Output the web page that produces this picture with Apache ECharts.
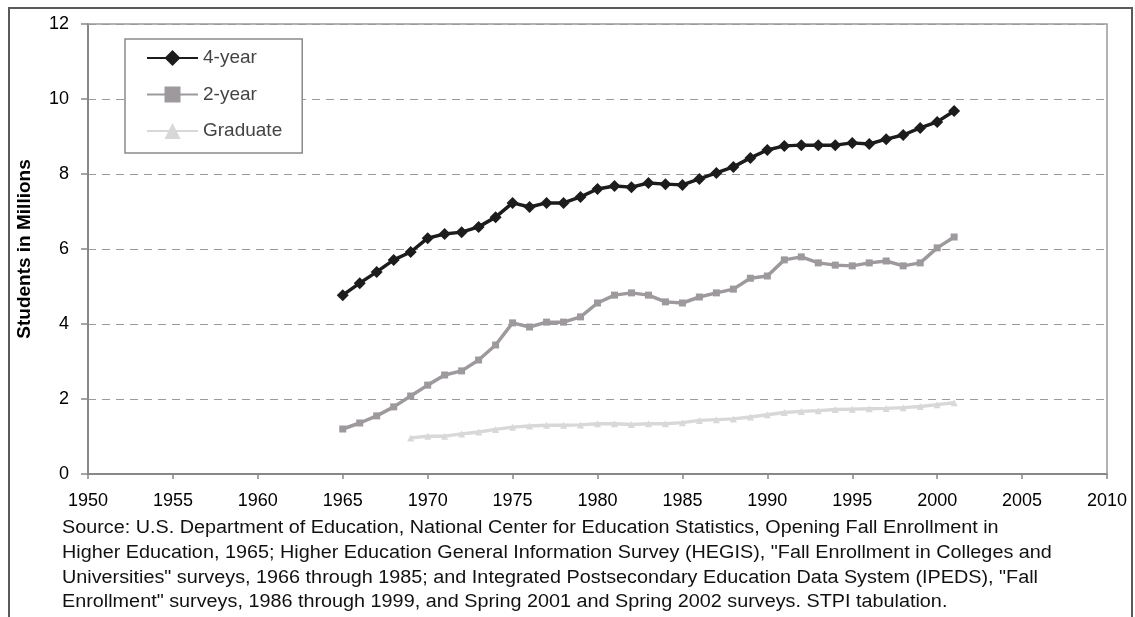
<!DOCTYPE html>
<html>
<head>
<meta charset="utf-8">
<script src="https://cdn.jsdelivr.net/npm/echarts@6/dist/echarts.min.js"></script>
<style>
  html, body { margin: 0; padding: 0; background: #ffffff; }
  #chart { width: 1135px; height: 617px; }
</style>
</head>
<body>
<div id="chart"></div>
<script>
// Fall enrollment in U.S. higher education, millions of students
const yearsUndergrad = [1965, 1966, 1967, 1968, 1969, 1970, 1971, 1972, 1973, 1974,
  1975, 1976, 1977, 1978, 1979, 1980, 1981, 1982, 1983, 1984, 1985, 1986, 1987,
  1988, 1989, 1990, 1991, 1992, 1993, 1994, 1995, 1996, 1997, 1998, 1999, 2000, 2001];
const fourYear = [4.77, 5.09, 5.39, 5.71, 5.92, 6.29, 6.40, 6.45, 6.59, 6.85,
  7.23, 7.12, 7.23, 7.23, 7.39, 7.60, 7.68, 7.65, 7.76, 7.73, 7.71, 7.87, 8.03,
  8.19, 8.43, 8.64, 8.75, 8.77, 8.77, 8.77, 8.83, 8.80, 8.93, 9.04, 9.23, 9.39, 9.68];
const twoYear = [1.20, 1.36, 1.55, 1.79, 2.08, 2.37, 2.64, 2.75, 3.04, 3.44,
  4.03, 3.92, 4.05, 4.05, 4.19, 4.56, 4.77, 4.83, 4.77, 4.59, 4.56, 4.72, 4.83,
  4.93, 5.22, 5.28, 5.71, 5.79, 5.63, 5.57, 5.55, 5.63, 5.68, 5.55, 5.63, 6.03, 6.32];
const yearsGraduate = [1969, 1970, 1971, 1972, 1973, 1974, 1975, 1976, 1977, 1978,
  1979, 1980, 1981, 1982, 1983, 1984, 1985, 1986, 1987, 1988, 1989, 1990, 1991,
  1992, 1993, 1994, 1995, 1996, 1997, 1998, 1999, 2000, 2001];
const graduate = [0.96, 1.01, 1.01, 1.07, 1.12, 1.19, 1.25, 1.28, 1.30, 1.30,
  1.31, 1.34, 1.34, 1.32, 1.34, 1.34, 1.37, 1.43, 1.45, 1.47, 1.52, 1.58, 1.64,
  1.67, 1.69, 1.72, 1.73, 1.74, 1.75, 1.77, 1.80, 1.85, 1.90];

const seriesNames = ['4-year', '2-year', 'Graduate'];
const yAxisTitle = 'Students in Millions';
const sourceLines = [
  'Source: U.S. Department of Education, National Center for Education Statistics, Opening Fall Enrollment in',
  'Higher Education, 1965; Higher Education General Information Survey (HEGIS), "Fall Enrollment in Colleges and',
  'Universities" surveys, 1966 through 1985; and Integrated Postsecondary Education Data System (IPEDS), "Fall',
  'Enrollment" surveys, 1986 through 1999, and Spring 2001 and Spring 2002 surveys. STPI tabulation.'
];

const pairs = (xs, ys) => xs.map((x, i) => [x, ys[i]]);
const FONT = '"Liberation Sans", Arial, sans-serif';

const chart = echarts.init(document.getElementById('chart'), null, { renderer: 'canvas' });

const graphics = [
  {
    type: 'rect',
    shape: { x: 9, y: 8, width: 1123, height: 640 },
    style: { fill: 'none', stroke: '#5a5a5a', lineWidth: 2 },
    z: 0
  },
  // plot area frame (top and right edges)
  {
    type: 'polyline',
    shape: { points: [[88, 24], [1107, 24], [1107, 474]] },
    style: { stroke: '#9a9a9a', lineWidth: 1.5, fill: 'none' },
    z: 1
  }
];
// source note, set slightly wide like the printed original
sourceLines.forEach((line, i) => {
  graphics.push({
    type: 'text',
    x: 62,
    y: 528 + i * 24.8,
    scaleX: 1.1,
    style: {
      text: line,
      font: '18px ' + FONT,
      fill: '#111111',
      verticalAlign: 'middle',
      align: 'left'
    },
    z: 5
  });
});

chart.setOption({
  backgroundColor: '#ffffff',
  animation: false,
  grid: { left: 88, right: 28, top: 24, bottom: 143 },
  legend: {
    orient: 'vertical',
    left: 125,
    top: 39,
    padding: [9, 20, 12, 21],
    itemWidth: 51,
    itemHeight: 20,
    itemGap: 16.5,
    borderColor: '#8a8a8a',
    borderWidth: 1.5,
    backgroundColor: '#ffffff',
    textStyle: { fontFamily: FONT, fontSize: 19, color: '#444444', lineHeight: 20 },
    data: seriesNames
  },
  xAxis: {
    type: 'value',
    min: 1950,
    max: 2010,
    interval: 5,
    axisLine: { lineStyle: { color: '#888888', width: 2 } },
    axisTick: { show: true, length: 5, lineStyle: { color: '#888888', width: 1.5 } },
    axisLabel: {
      fontFamily: FONT, fontSize: 18, color: '#000000', margin: 18,
      formatter: v => String(v)
    },
    splitLine: { show: false }
  },
  yAxis: {
    type: 'value',
    min: 0,
    max: 12,
    interval: 2,
    name: yAxisTitle,
    nameLocation: 'middle',
    nameGap: 54,
    nameTextStyle: { fontFamily: FONT, fontSize: 19, fontWeight: 'bold', color: '#000000' },
    axisLine: { show: true, lineStyle: { color: '#888888', width: 2 } },
    axisTick: { show: true, length: 7, lineStyle: { color: '#888888', width: 1.5 } },
    axisLabel: { fontFamily: FONT, fontSize: 18, color: '#000000', margin: 19 },
    splitLine: { show: true, lineStyle: { color: '#9a9a9a', type: [8, 6], width: 1.2 } }
  },
  series: [
    {
      name: seriesNames[0],
      type: 'line',
      data: pairs(yearsUndergrad, fourYear),
      color: '#1c1c1c',
      lineStyle: { width: 3.5, color: '#1c1c1c' },
      symbol: 'diamond',
      symbolSize: 12,
      itemStyle: { color: '#1c1c1c' },
      z: 4
    },
    {
      name: seriesNames[1],
      type: 'line',
      data: pairs(yearsUndergrad, twoYear),
      color: '#9d999d',
      lineStyle: { width: 3.5, color: '#9d999d' },
      symbol: 'rect',
      symbolSize: 7,
      itemStyle: { color: '#9d999d' },
      z: 3
    },
    {
      name: seriesNames[2],
      type: 'line',
      data: pairs(yearsGraduate, graduate),
      color: '#d8d8d8',
      lineStyle: { width: 3.5, color: '#d8d8d8' },
      symbol: 'triangle',
      symbolSize: 7,
      itemStyle: { color: '#d8d8d8' },
      z: 2
    }
  ],
  graphic: graphics
});
</script>
</body>
</html>
